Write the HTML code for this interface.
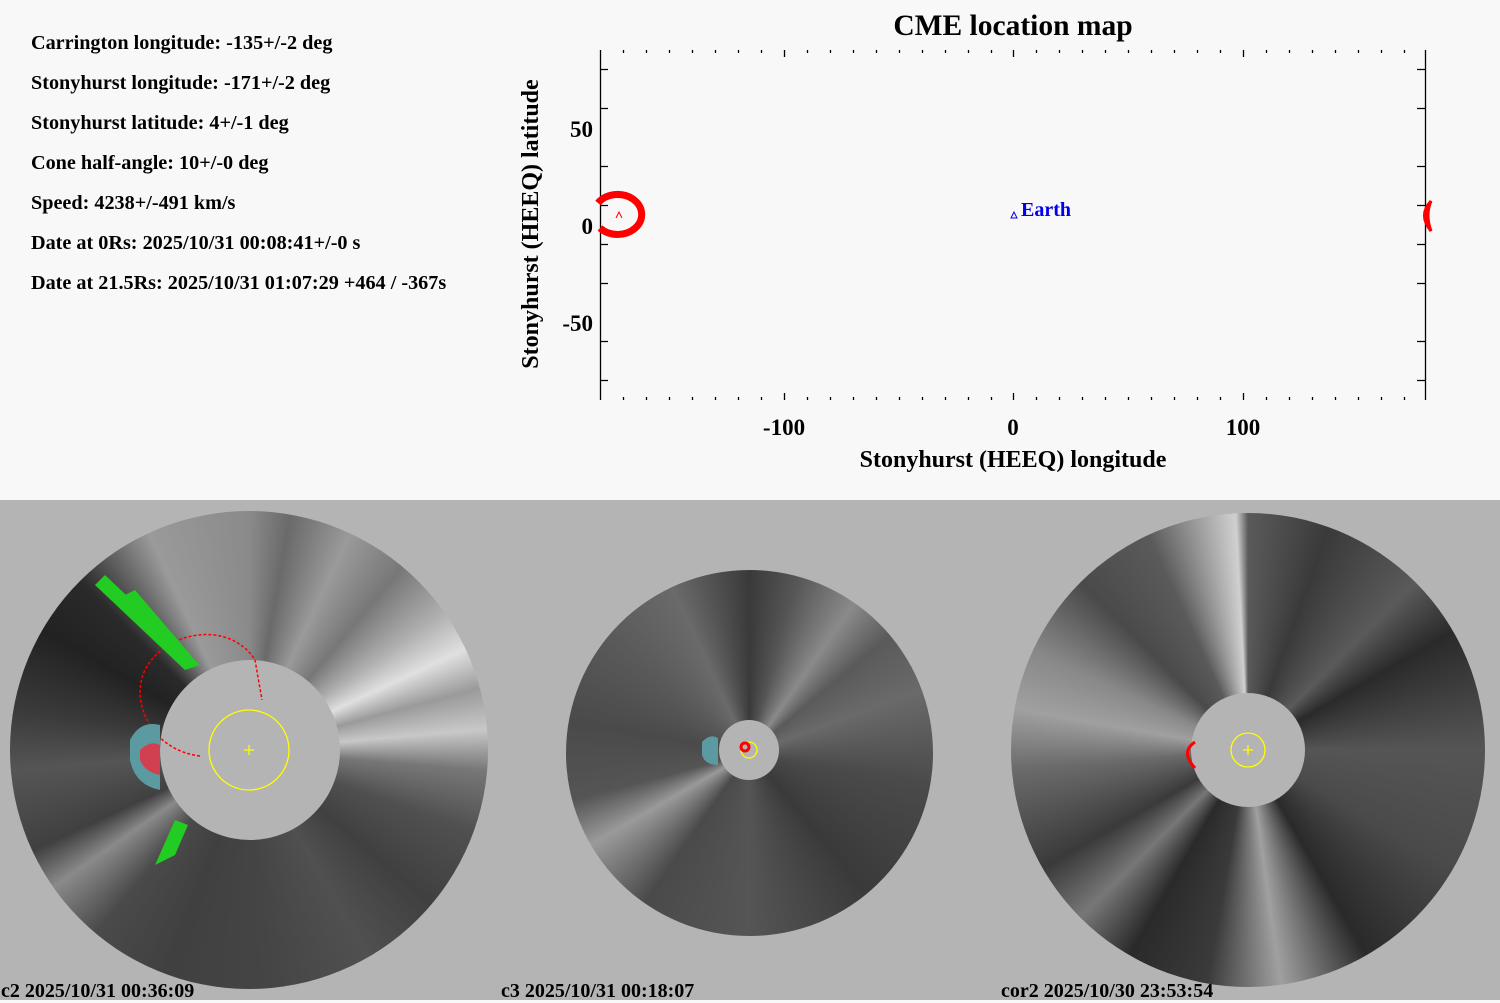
<!DOCTYPE html>
<html><head><style>
html,body{margin:0;padding:0;}
body{width:1500px;height:1000px;background:#f8f8f8;position:relative;overflow:hidden;font-family:"Liberation Serif",serif;}
.info{position:absolute;left:31px;font-weight:bold;font-size:20.2px;color:#000;white-space:nowrap;}
.pan{position:absolute;top:500px;width:500px;height:500px;background:#b4b4b4;overflow:hidden;}
.disk{position:absolute;border-radius:50%;}
.occ{position:absolute;border-radius:50%;background:#b4b4b4;}
.lab{position:absolute;font-weight:bold;font-size:20px;color:#000;white-space:nowrap;}
svg{position:absolute;left:0;top:0;}
</style></head><body>
<div class="info" style="top:32px">Carrington longitude: -135+/-2 deg</div>
<div class="info" style="top:72px">Stonyhurst longitude: -171+/-2 deg</div>
<div class="info" style="top:112px">Stonyhurst latitude: 4+/-1 deg</div>
<div class="info" style="top:152px">Cone half-angle: 10+/-0 deg</div>
<div class="info" style="top:192px">Speed: 4238+/-491 km/s</div>
<div class="info" style="top:232px">Date at 0Rs: 2025/10/31 00:08:41+/-0 s</div>
<div class="info" style="top:272px">Date at 21.5Rs: 2025/10/31 01:07:29 +464 / -367s</div>

<svg width="1500" height="500" viewBox="0 0 1500 500">
<g font-family="Liberation Serif,serif" font-weight="bold">
<text x="1013" y="35" font-size="29.5" text-anchor="middle">CME location map</text>
<text x="784" y="435" font-size="23" text-anchor="middle">-100</text>
<text x="1013" y="435" font-size="23" text-anchor="middle">0</text>
<text x="1243" y="435" font-size="23" text-anchor="middle">100</text>
<text x="1013" y="467" font-size="24" text-anchor="middle">Stonyhurst (HEEQ) longitude</text>
<text x="593" y="137" font-size="23" text-anchor="end">50</text>
<text x="593" y="234" font-size="23" text-anchor="end">0</text>
<text x="593" y="331" font-size="23" text-anchor="end">-50</text>
<text transform="translate(538,224) rotate(-90)" font-size="24" text-anchor="middle">Stonyhurst (HEEQ) latitude</text>
<text x="1021" y="216" font-size="20" fill="#0000ee">Earth</text>
</g>
<g stroke="#000" stroke-width="1.3">
<line x1="600.5" y1="50" x2="600.5" y2="400"/>
<line x1="1425.5" y1="50" x2="1425.5" y2="400"/>
<path d="M623.5 50v3M646.5 50v3M669.5 50v3M692.5 50v3M715.5 50v3M738.5 50v3M761.5 50v3M784.5 50v7M807.5 50v3M830.5 50v3M853.5 50v3M876.5 50v3M899.5 50v3M922.5 50v3M945.5 50v3M968.5 50v3M991.5 50v3M1013.5 50v7M1036.5 50v3M1059.5 50v3M1082.5 50v3M1105.5 50v3M1128.5 50v3M1151.5 50v3M1174.5 50v3M1197.5 50v3M1220.5 50v3M1243.5 50v7M1266.5 50v3M1289.5 50v3M1312.5 50v3M1335.5 50v3M1358.5 50v3M1381.5 50v3M1404.5 50v3"/>
<path d="M623.5 400v-3M646.5 400v-3M669.5 400v-3M692.5 400v-3M715.5 400v-3M738.5 400v-3M761.5 400v-3M784.5 400v-7M807.5 400v-3M830.5 400v-3M853.5 400v-3M876.5 400v-3M899.5 400v-3M922.5 400v-3M945.5 400v-3M968.5 400v-3M991.5 400v-3M1013.5 400v-7M1036.5 400v-3M1059.5 400v-3M1082.5 400v-3M1105.5 400v-3M1128.5 400v-3M1151.5 400v-3M1174.5 400v-3M1197.5 400v-3M1220.5 400v-3M1243.5 400v-7M1266.5 400v-3M1289.5 400v-3M1312.5 400v-3M1335.5 400v-3M1358.5 400v-3M1381.5 400v-3M1404.5 400v-3"/>
<path d="M600 69.5h8M600 108.5h8M600 166.5h8M600 205.5h8M600 244.5h8M600 283.5h8M600 341.5h8M600 380.5h8"/>
<path d="M1425 69.5h-8M1425 108.5h-8M1425 166.5h-8M1425 205.5h-8M1425 244.5h-8M1425 283.5h-8M1425 341.5h-8M1425 380.5h-8"/>
</g>
<path d="M598 203 A24 20 0 1 1 600 228" fill="none" stroke="#ff0000" stroke-width="7"/>
<path d="M616 218 L619 212 L622 218" fill="none" stroke="#ff0000" stroke-width="1"/>
<path d="M1431 201 Q1418 215 1431 231 Q1425 215 1431 201Z" fill="#ff0000" stroke="#ff0000" stroke-width="3"/>
<path d="M1011 218 L1014 212 L1017 218Z" fill="none" stroke="#0000ee" stroke-width="1"/>
</svg>

<div class="pan" style="left:0">
<div class="disk" style="left:10px;top:11px;width:478px;height:478px;background:conic-gradient(from 0deg,#8a8a8a 0deg,#6a6a6a 10deg,#9a9a9a 25deg,#777 40deg,#b0b0b0 55deg,#e0e0e0 65deg,#9a9a9a 75deg,#c8c8c8 85deg,#777 95deg,#505050 110deg,#404040 130deg,#505050 150deg,#454545 175deg,#404040 200deg,#4a4a4a 220deg,#8a8a8a 235deg,#404040 245deg,#555 265deg,#3a3a3a 280deg,#222 300deg,#2a2a2a 315deg,#9a9a9a 335deg,#8a8a8a 360deg);"></div>
<div class="occ" style="left:160px;top:160px;width:180px;height:180px;"></div>
</div>
<div class="pan" style="left:500px">
<div class="disk" style="left:66px;top:70px;width:367px;height:366px;background:conic-gradient(from 0deg,#3a3a3a 0deg,#555 15deg,#8a8a8a 35deg,#5a5a5a 50deg,#6a6a6a 70deg,#4a4a4a 100deg,#3a3a3a 140deg,#555 180deg,#4a4a4a 215deg,#9a9a9a 240deg,#555 255deg,#4a4a4a 280deg,#5a5a5a 310deg,#6a6a6a 335deg,#3a3a3a 360deg);"></div>
<div class="occ" style="left:219px;top:220px;width:60px;height:60px;"></div>
</div>
<div class="pan" style="left:1000px">
<div class="disk" style="left:11px;top:13px;width:474px;height:474px;background:conic-gradient(from 0deg,#5a5a5a 0deg,#3a3a3a 20deg,#5a5a5a 45deg,#2a2a2a 60deg,#555 90deg,#4a4a4a 120deg,#2a2a2a 150deg,#a0a0a0 172deg,#3a3a3a 190deg,#2a2a2a 210deg,#777 225deg,#3a3a3a 240deg,#6a6a6a 265deg,#a0a0a0 280deg,#888 295deg,#4a4a4a 315deg,#5a5a5a 335deg,#d0d0d0 357deg,#5a5a5a 360deg);"></div>
<div class="occ" style="left:191px;top:193px;width:114px;height:114px;"></div>
</div>

<svg width="1500" height="1000" viewBox="0 0 1500 1000">
<g fill="none" stroke="#ffff00" stroke-width="1.3">
<circle cx="249" cy="750" r="40"/><path d="M244 750h10M249 745v10"/>
<circle cx="749" cy="750" r="8"/>
<circle cx="1248" cy="750" r="17"/><path d="M1243 750h10M1248 745v10"/>
</g>
<path d="M200 756 C150 750 130 700 145 670 C165 630 230 620 255 660 L262 700" fill="none" stroke="#ff0000" stroke-width="1.5" stroke-dasharray="3 2"/>
<path d="M130 740 Q140 720 160 725 L160 790 Q135 785 130 760Z" fill="#5a9aa0"/>
<path d="M140 750 Q150 740 160 745 L160 775 Q145 772 140 760Z" fill="#d04050"/>
<path d="M95 585 L105 575 L200 665 L185 670Z" fill="#22cc22"/>
<path d="M125 595 L135 590 L195 660 L180 665Z" fill="#22cc22"/>
<path d="M175 820 L188 825 L175 855 L155 865Z" fill="#22cc22"/>
<path d="M702 742 Q710 733 718 738 L718 765 Q705 765 702 755Z" fill="#5a9aa0"/>
<circle cx="745" cy="747" r="4" fill="none" stroke="#ff0000" stroke-width="3"/>
<path d="M1195 742 Q1180 752 1195 768" fill="none" stroke="#ff0000" stroke-width="3"/>
</svg>

<div class="lab" style="left:1px;top:980px">c2 2025/10/31 00:36:09</div>
<div class="lab" style="left:501px;top:980px">c3 2025/10/31 00:18:07</div>
<div class="lab" style="left:1001px;top:980px">cor2 2025/10/30 23:53:54</div>
</body></html>
